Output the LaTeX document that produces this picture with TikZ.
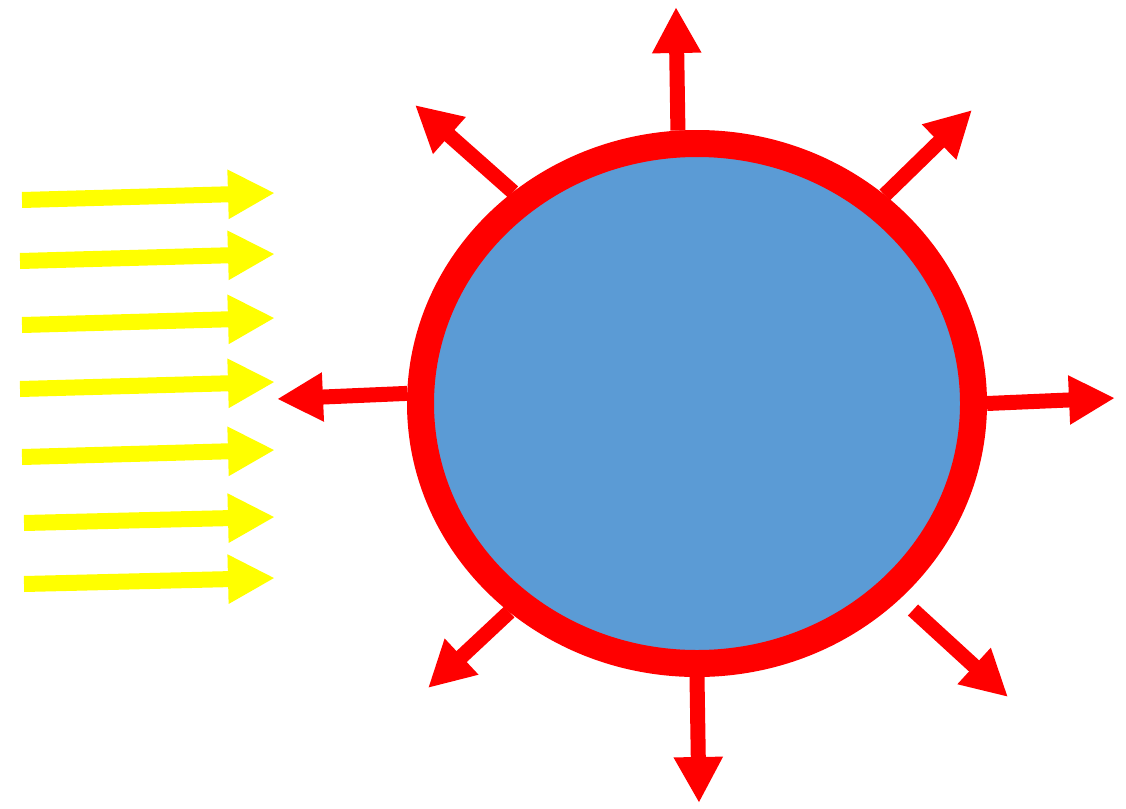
\documentclass[tikz,border=0pt]{standalone}
\usetikzlibrary{arrows.meta,shapes.geometric}
\definecolor{ringred}{RGB}{255,0,0}
\definecolor{ballblue}{RGB}{91,155,213}
\definecolor{rayyellow}{RGB}{255,255,0}
\tikzset{
  redarrow/.style={draw=ringred, line width=15pt, -{Triangle[length=46pt,width=46pt]}},
  yelarrow/.style={draw=rayyellow, line width=16pt, -{Triangle[length=47pt,width=46pt]}},
  ballstyle/.style={ellipse, draw=ringred, line width=27pt, fill=ballblue, inner sep=0pt,
    minimum width=553pt, minimum height=520pt}
}
\begin{document}
\begin{tikzpicture}[x=1pt,y=-1pt]
\useasboundingbox (0,0) rectangle (1126,808);
% yellow incoming rays
\foreach \i/\xa/\ya/\yb in {1/22/200/193, 2/20/261/254, 3/22/325/318, 4/20/389/382, 5/22/457/450, 6/24/523/517, 7/24/584/578}{
  \coordinate (ys\i) at (\xa,\ya);
  \coordinate (ye\i) at (275,\yb);
  \draw[yelarrow] (ys\i) -- (ye\i);
}
% sphere
\node[ballstyle] (ball) at (697,403.5) {};
% tips
\coordinate (tU) at (676,7);
\coordinate (tUL) at (415,105);
\coordinate (tUR) at (972,110);
\coordinate (tL) at (277,399);
\coordinate (tR) at (1115,398);
\coordinate (tLL) at (428,688);
\coordinate (sLR) at (913,610);
\coordinate (tLR) at (1008,697);
\coordinate (tD) at (699,803);
\draw[redarrow] (ball.94) -- (tU);
\draw[redarrow] (ball.131) -- (tUL);
\draw[redarrow] (ball.48.6) -- (tUR);
\draw[redarrow] (ball.178.8) -- (tL);
\draw[redarrow] (ball.0.7) -- (tR);
\draw[redarrow] (ball.228) -- (tLL);
\draw[redarrow] (sLR) -- (tLR);
\draw[redarrow] (ball.270) -- (tD);
\end{tikzpicture}
\end{document}
